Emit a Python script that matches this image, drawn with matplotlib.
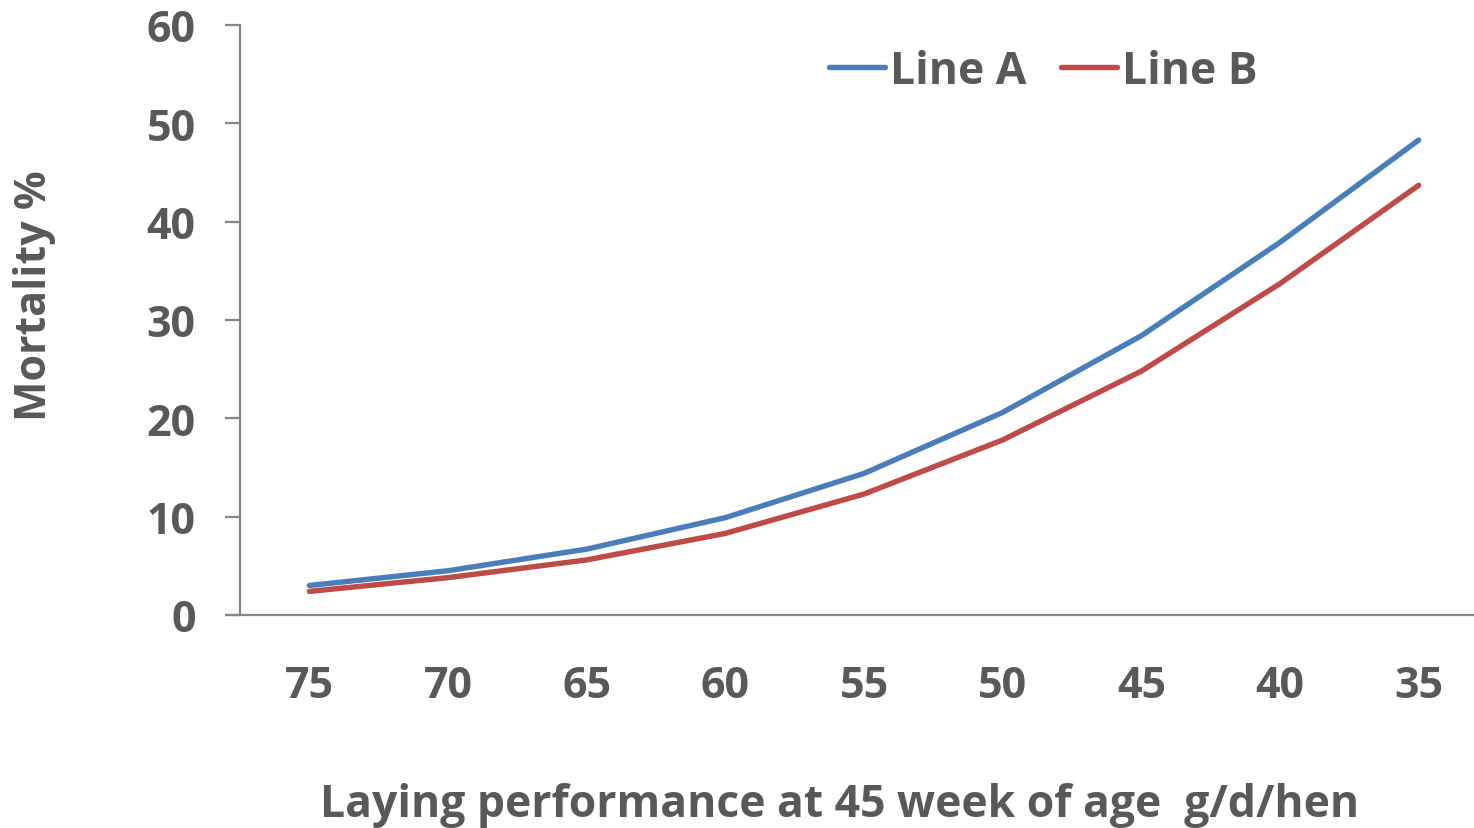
import matplotlib.pyplot as plt
from matplotlib.lines import Line2D

categories = ["75", "70", "65", "60", "55", "50", "45", "40", "35"]
line_a = [3.0, 4.5, 6.7, 9.9, 14.4, 20.6, 28.4, 37.9, 48.3]
line_b = [2.4, 3.8, 5.6, 8.3, 12.3, 17.8, 24.8, 33.7, 43.7]
series_names = ["Line A", "Line B"]

text_color = "#595959"
axis_color = "#868686"
colors = ["#4A7EBB", "#BE4B48"]

plt.rcParams["font.family"] = ["Open Sans", "DejaVu Sans"]
plt.rcParams["font.weight"] = "bold"

fig = plt.figure(figsize=(14.74, 8.29), dpi=100)
ax = fig.add_axes([240 / 1474, 1 - 616 / 829, 1248 / 1474, 590 / 829])

xs = list(range(len(categories)))
for vals, col, name in zip([line_a, line_b], colors, series_names):
    ax.plot(xs, vals, color=col, lw=3.9, solid_capstyle="round",
            solid_joinstyle="round", label=name)

ax.set_xlim(-0.5, len(categories) - 0.5)
ax.set_ylim(0, 60)
ax.set_yticks(range(0, 61, 10))
ax.set_xticks(xs)
ax.set_xticklabels(categories)

for side in ["top", "right"]:
    ax.spines[side].set_visible(False)
for side in ["left", "bottom"]:
    ax.spines[side].set_color(axis_color)
    ax.spines[side].set_linewidth(1.6)
# x axis line sticks out left of the y axis like in Excel
ax.plot([-0.61, -0.5], [0, 0], color=axis_color, lw=1.6, clip_on=False,
        solid_capstyle="butt")

ax.tick_params(axis="y", length=11, width=1.6, color=axis_color, pad=21,
               labelsize=31, labelcolor=text_color)
ax.tick_params(axis="x", length=0, pad=35, labelsize=31, labelcolor=text_color)
for lab in ax.get_xticklabels() + ax.get_yticklabels():
    lab.set_fontweight("bold")

fig.text(35 / 1474, 1 - 296 / 829, "Mortality %", rotation=90, ha="center",
         va="center", fontsize=31, fontweight="bold", color=text_color)
fig.text(840 / 1474, 1 - 806 / 829, "Laying performance at 45 week of age  g/d/hen",
         ha="center", va="center", fontsize=32, fontweight="bold", color=text_color)

handles = [Line2D([0], [0], color=c, lw=3.9, solid_capstyle="round") for c in colors]
leg = fig.legend(handles, series_names, loc="center left",
                 bbox_to_anchor=(829 / 1474, 1 - 72 / 829), ncol=2, frameon=False,
                 fontsize=32, handlelength=1.25, handletextpad=0.12,
                 columnspacing=0.78, borderaxespad=0, borderpad=0)
for t in leg.get_texts():
    t.set_color(text_color)
    t.set_fontweight("bold")

fig.savefig("out.png", dpi=100)
